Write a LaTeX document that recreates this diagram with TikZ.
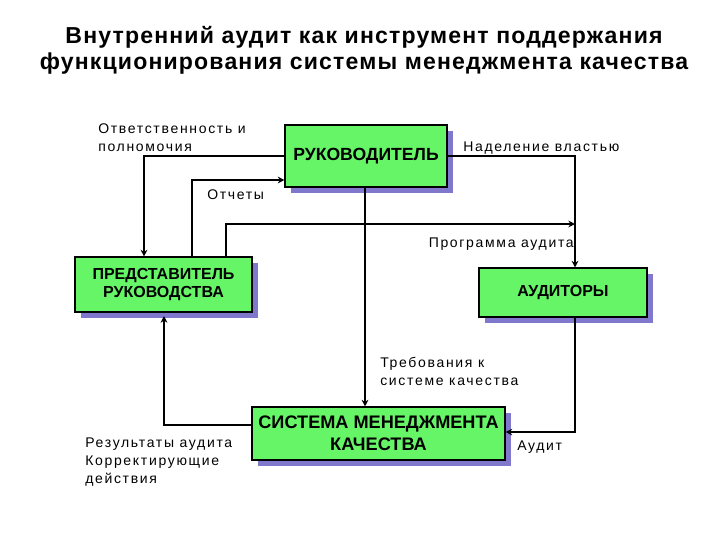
\documentclass[tikz,border=0pt]{standalone}
\usepackage{fontspec}
\setmainfont{Liberation Sans}
\newfontfamily\labfont[LetterSpace=12]{Liberation Sans}
\newfontfamily\titfont[LetterSpace=5]{Liberation Sans}
\usetikzlibrary{shadows,arrows.meta}
\definecolor{boxgreen}{HTML}{66F566}
\definecolor{shadowc}{HTML}{7F78CC}
\tikzset{
  box/.style={draw=black, line width=0.8pt, fill=boxgreen, inner sep=0pt, align=center,
    font=\bfseries, drop shadow={shadow xshift=4.5pt, shadow yshift=-4.5pt, fill=shadowc, opacity=1}},
  conn/.style={line width=1.5pt, -{Stealth[length=5pt,width=5pt]}},
  lab/.style={inner sep=0pt, align=left, font=\labfont\fontsize{10.5pt}{13.5pt}\selectfont},
}
\begin{document}
\begin{tikzpicture}[x=0.75pt, y=-0.75pt]
\useasboundingbox (0,0) rectangle (720,540);
% title
\node[inner sep=0pt, font=\titfont\bfseries\fontsize{17.3pt}{19.5pt}\selectfont, align=center] (title) at (364,50)
  {Внутренний аудит как инструмент поддержания\\функционирования системы менеджмента качества};
% boxes
\node[box, minimum width=121.5pt, minimum height=46.5pt, font=\bfseries\fontsize{13.2pt}{15pt}\selectfont] (ruk) at (366,156) {РУКОВОДИТЕЛЬ};
\node[box, minimum width=132.75pt, minimum height=41.25pt, font=\bfseries\fontsize{12pt}{13.5pt}\selectfont] (pred) at (163.5,284.5) {ПРЕДСТАВИТЕЛЬ\\РУКОВОДСТВА};
\node[box, minimum width=126pt, minimum height=36.75pt, font=\bfseries\fontsize{12pt}{13.5pt}\selectfont] (aud) at (563,292.5) {АУДИТОРЫ};
\node[box, minimum width=189.75pt, minimum height=39.75pt, font=\bfseries\fontsize{13.6pt}{16.5pt}\selectfont] (smk) at (378.5,433.5) {СИСТЕМА МЕНЕДЖМЕНТА\\КАЧЕСТВА};
% helper coordinates
\coordinate (xa) at (144,0);
\coordinate (xb) at (192,0);
\coordinate (xc) at (226,0);
\coordinate (xd) at (575,0);
\coordinate (xe) at (164,0);
\coordinate (xf) at (365,0);
\coordinate (ya) at (0,180);
\coordinate (yb) at (0,224);
\coordinate (yc) at (0,432);
\coordinate (yd) at (0,425);
\coordinate (ye) at (0,316);
% connectors
\draw[conn] (ruk.west) -| (pred.north -| xa);
\draw[conn] (pred.north -| xb) |- (ruk.west |- ya);
\draw[conn] (pred.north -| xc) |- (xd |- yb);
\draw[conn] (ruk.east) -| (aud.north -| xd);
\draw[conn] (ruk.south -| xf) -- (smk.north -| xf);
\draw[conn] (aud.south -| xd) |- (smk.east |- yc);
\draw[conn] (smk.west |- yd) -| (xe |- ye);
% labels (base = baseline of last line)
\node[lab, anchor=base west] (l1) at (98,151) {Ответственность и\\полномочия};
\node[lab, anchor=base west] (l2) at (207,199) {Отчеты};
\node[lab, anchor=base west] (l3) at (463,151) {Наделение властью};
\node[lab, anchor=base east] (l4) at (574,247) {Программа аудита};
\node[lab, anchor=base west] (l5) at (380,385) {Требования к\\системе качества};
\node[lab, anchor=base west] (l6) at (85,483) {Результаты аудита\\Корректирующие\\действия};
\node[lab, anchor=base west] (l7) at (517,450) {Аудит};
\end{tikzpicture}
\end{document}
